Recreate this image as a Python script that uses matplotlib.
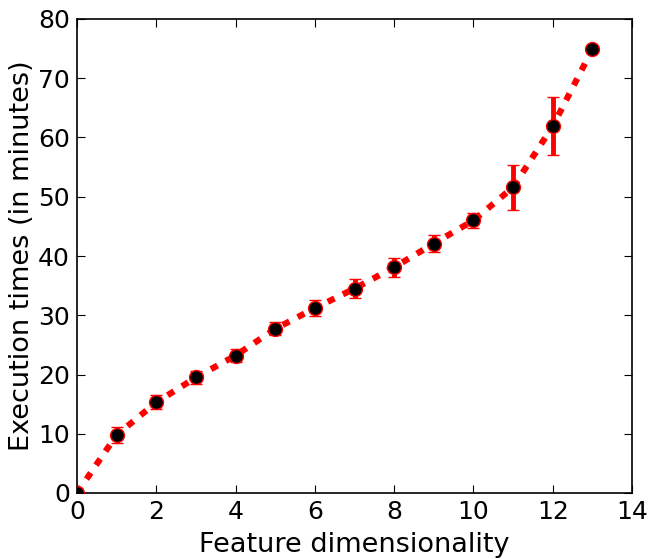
import matplotlib
matplotlib.use("Agg")
import matplotlib.pyplot as plt

dims = [0, 1, 2, 3, 4, 5, 6, 7, 8, 9, 10, 11, 12, 13]
times = [0.0, 9.8, 15.3, 19.5, 23.2, 27.7, 31.2, 34.5, 38.1, 42.1, 46.0, 51.6, 61.9, 74.9]
errs = [0.0, 1.3, 1.2, 1.1, 1.1, 1.1, 1.4, 1.6, 1.6, 1.4, 1.3, 3.8, 4.9, 0.0]
xticks = [0, 2, 4, 6, 8, 10, 12, 14]
yticks = [0, 10, 20, 30, 40, 50, 60, 70, 80]

plt.rcParams['font.family'] = ['DejaVu Sans']
fig = plt.figure(figsize=(6.51, 5.59), dpi=100, facecolor='white')
ax = fig.add_axes([77/651, 1-493/559, (632-77)/651, (493-19)/559])
ax.errorbar(dims, times, yerr=errs, fmt='o', color='red', ecolor='red',
            elinewidth=3.5, capsize=4, capthick=1.5, markerfacecolor='black',
            markeredgecolor='red', markersize=10, markeredgewidth=1, zorder=3,
            linestyle=(0, (1.2, 1.5)), linewidth=4.5)
ax.set_xlim(0, 14)
ax.set_ylim(0, 80)
ax.set_xticks(xticks)
ax.set_yticks(yticks)
ax.tick_params(direction='in', top=True, right=True, length=6, labelsize=18, pad=5)
ax.set_xlabel('Feature dimensionality', fontsize=19.5, labelpad=6)
ax.set_ylabel('Execution times (in minutes)', fontsize=19.5, labelpad=2)
for s in ax.spines.values():
    s.set_linewidth(1.2)
fig.savefig('out.png', dpi=100, facecolor='white')
